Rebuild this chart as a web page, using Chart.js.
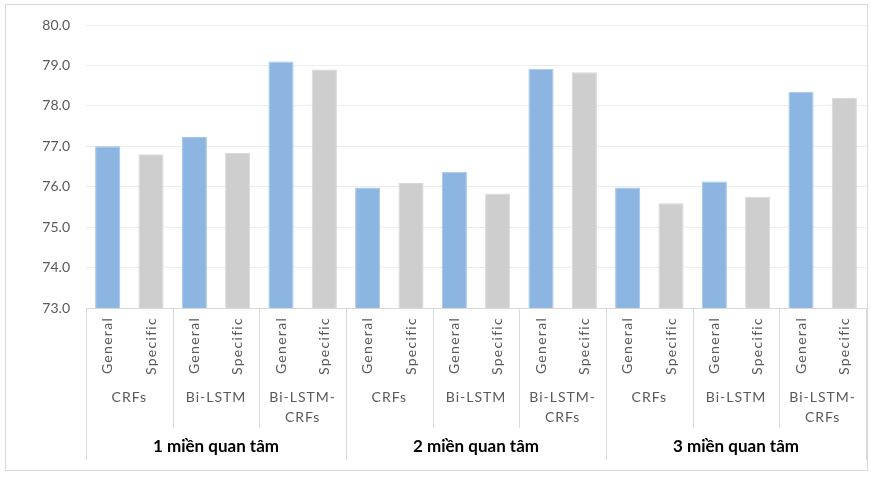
<!DOCTYPE html>
<html>
<head>
<meta charset="utf-8">
<script src="https://cdn.jsdelivr.net/npm/chart.js@4"></script>
<style>
  body { margin: 0; background: #fff; }
</style>
</head>
<body>
<canvas id="myChart" width="871" height="480"></canvas>
<script>
// chart data
const groups = ['1 miền quan tâm', '2 miền quan tâm', '3 miền quan tâm']
const models = [['CRFs'], ['Bi-LSTM'], ['Bi-LSTM-', 'CRFs']]
const kinds = ['General', 'Specific']
const generalValues = [77.0, 77.23, 79.1, 75.98, 76.37, 78.92, 75.98, 76.13, 78.35]
const specificValues = [76.8, 76.84, 78.9, 76.09, 75.83, 78.83, 75.59, 75.75, 78.2]
const yMin = 73
const yMax = 80
const yStep = 1

// flatten into 18 bars: group -> model -> kind
const labels = []
const values = []
const colors = []
const borders = []
groups.forEach((g, gi) => {
    models.forEach((m, mi) => {
        const k = gi * models.length + mi
        labels.push(kinds[0]); values.push(generalValues[k]); colors.push('#8cb6e1'); borders.push('#a3c6ec')
        labels.push(kinds[1]); values.push(specificValues[k]); colors.push('#cfcecf'); borders.push('#d8d8d8')
    })
})

const LINE = '#d9d9d9'

// outer frame + multi level category axis
const multiAxis = {
    id: 'multiAxis',
    beforeDraw(chart) {
        const ctx = chart.ctx
        ctx.save()
        ctx.fillStyle = '#fff'
        ctx.fillRect(0, 0, chart.width, chart.height)
        ctx.strokeStyle = LINE
        ctx.lineWidth = 1
        ctx.strokeRect(5.5, 4.5, 862, 466)
        ctx.restore()
    },
    afterDraw(chart) {
        const ctx = chart.ctx
        const x = chart.scales.x
        const bottom = chart.chartArea.bottom
        const slot = x.width / labels.length
        const edge = (i) => Math.round(x.getPixelForValue(0) - slot / 2 + i * slot) + 0.5
        const perGroup = models.length * kinds.length

        ctx.save()
        ctx.strokeStyle = LINE
        ctx.lineWidth = 1
        for (let i = 0; i <= labels.length; i += 2) {
            const full = i % perGroup === 0
            ctx.beginPath()
            ctx.moveTo(edge(i), bottom)
            ctx.lineTo(edge(i), bottom + (full ? 152 : 120))
            ctx.stroke()
        }

        // General / Specific, rotated
        ctx.fillStyle = '#595959'
        ctx.font = '14px Lato'
        ctx.letterSpacing = '1.3px'
        labels.forEach((lab, i) => {
            ctx.save()
            ctx.translate(x.getPixelForValue(i), bottom + 9)
            ctx.rotate(-Math.PI / 2)
            ctx.textAlign = 'right'
            ctx.textBaseline = 'middle'
            ctx.fillText(lab, 0, 0)
            ctx.restore()
        })

        // model names
        ctx.letterSpacing = '1px'
        ctx.textAlign = 'center'
        ctx.textBaseline = 'middle'
        groups.forEach((g, gi) => {
            models.forEach((m, mi) => {
                const i = (gi * models.length + mi) * 2
                const cx = (x.getPixelForValue(i) + x.getPixelForValue(i + 1)) / 2
                m.forEach((line, li) => ctx.fillText(line, cx, bottom + 89 + li * 20))
            })
        })

        // group names
        ctx.letterSpacing = '0px'
        ctx.fillStyle = '#000'
        ctx.font = 'bold 17px Lato'
        groups.forEach((g, gi) => {
            const a = x.getPixelForValue(gi * perGroup)
            const b = x.getPixelForValue(gi * perGroup + perGroup - 1)
            ctx.fillText(g, (a + b) / 2, bottom + 139)
        })
        ctx.restore()
    }
}

const config = {
    type: 'bar',
    data: {
        labels: labels,
        datasets: [{
            data: values,
            backgroundColor: colors,
            borderColor: borders,
            borderWidth: 1,
            categoryPercentage: 1,
            barPercentage: 0.58
        }]
    },
    options: {
        responsive: false,
        animation: false,
        layout: { padding: { top: 25, right: 5, bottom: 10, left: 0 } },
        plugins: { legend: { display: false }, tooltip: { enabled: false } },
        scales: {
            x: {
                ticks: { display: false },
                grid: { display: false },
                border: { color: LINE },
                afterFit: (s) => { s.height = 162 }
            },
            y: {
                min: yMin,
                max: yMax,
                ticks: {
                    stepSize: yStep,
                    padding: 16,
                    color: '#595959',
                    font: { family: 'Lato', size: 14 },
                    callback: (v) => v.toFixed(1)
                },
                grid: { color: '#ededed', drawTicks: false },
                border: { display: false },
                afterFit: (s) => { s.width = 86 }
            }
        }
    },
    plugins: [multiAxis]
}

new Chart(document.querySelector('#myChart'), config)
</script>
</body>
</html>
